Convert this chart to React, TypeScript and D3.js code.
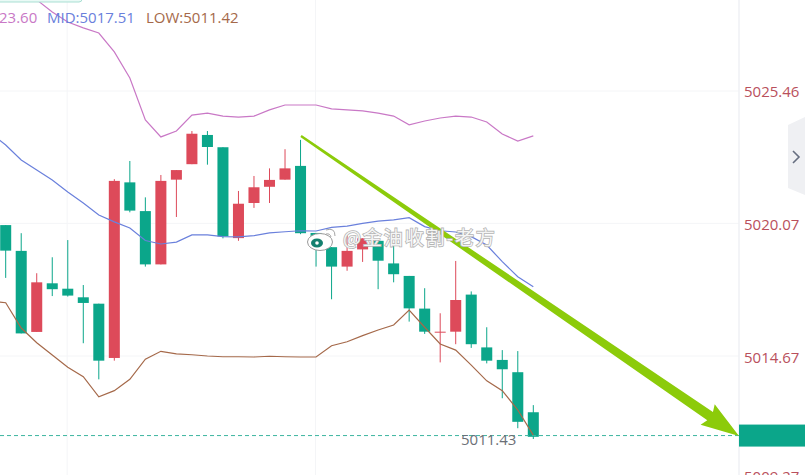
import { useEffect, useRef } from "react";
import * as d3 from "d3";

const width = 805;
const height = 475;

// open, high, low, close for each candle, left to right
const opens = [5020.0, 5018.95, 5015.65, 5017.63, 5017.41, 5017.06, 5016.8, 5014.59, 5021.74, 5020.57, 5018.4, 5021.85, 5022.48, 5023.67, 5023.17, 5019.47, 5020.9, 5021.56, 5021.85, 5022.41, 5019.68, 5019.1, 5018.31, 5019.01, 5019.36, 5018.44, 5017.93, 5016.6, 5015.62, 5015.66, 5017.17, 5015.02, 5014.51, 5014.01, 5012.38];
const highs = [5020.0, 5019.67, 5018.04, 5018.69, 5019.39, 5017.56, 5016.8, 5021.87, 5022.61, 5021.13, 5022.04, 5022.24, 5023.83, 5023.83, 5023.17, 5021.39, 5022.0, 5022.31, 5023.09, 5023.47, 5019.68, 5019.1, 5019.68, 5019.46, 5019.36, 5019.19, 5017.93, 5017.43, 5016.41, 5018.54, 5017.3, 5015.84, 5014.91, 5014.87, 5012.67];
const lows = [5017.85, 5015.59, 5015.65, 5017.11, 5017.09, 5015.19, 5013.72, 5014.48, 5020.52, 5018.31, 5018.4, 5020.33, 5022.48, 5022.46, 5019.46, 5019.36, 5020.7, 5020.9, 5021.85, 5019.63, 5018.31, 5016.98, 5018.14, 5018.5, 5017.39, 5017.67, 5016.07, 5015.57, 5014.41, 5015.15, 5015.0, 5014.37, 5012.95, 5011.73, 5011.29];
const closes = [5018.96, 5015.59, 5017.67, 5017.39, 5017.13, 5016.83, 5014.48, 5021.8, 5020.59, 5018.4, 5021.8, 5022.24, 5023.72, 5023.18, 5019.54, 5020.87, 5021.54, 5021.84, 5022.31, 5019.67, 5019.07, 5018.31, 5018.95, 5019.46, 5018.55, 5018.0, 5016.61, 5015.66, 5015.66, 5016.95, 5015.15, 5014.48, 5014.13, 5011.99, 5011.38];

// bollinger bands, first value belongs to the candle just off the left edge
const upper = [5030.6, 5030.18, 5029.65, 5029.17, 5028.68, 5028.27, 5028.03, 5027.82, 5027.05, 5025.99, 5024.28, 5023.59, 5023.83, 5024.48, 5024.56, 5024.44, 5024.4, 5024.44, 5024.69, 5024.89, 5024.89, 5024.89, 5024.73, 5024.69, 5024.65, 5024.56, 5024.44, 5024.08, 5024.24, 5024.36, 5024.44, 5024.4, 5024.2, 5023.71, 5023.42, 5023.63];
const mid = [5023.75, 5023.26, 5022.65, 5022.24, 5021.84, 5021.35, 5020.9, 5020.41, 5020.13, 5019.88, 5019.37, 5019.23, 5019.31, 5019.6, 5019.6, 5019.53, 5019.52, 5019.57, 5019.68, 5019.73, 5019.77, 5019.76, 5019.91, 5019.96, 5020.07, 5020.16, 5020.21, 5020.3, 5019.94, 5019.77, 5019.72, 5019.53, 5019.19, 5018.51, 5017.9, 5017.49];
const lower = [5016.9, 5016.84, 5015.81, 5015.21, 5014.71, 5014.21, 5013.83, 5013.01, 5013.26, 5013.72, 5014.54, 5014.86, 5014.76, 5014.72, 5014.67, 5014.64, 5014.64, 5014.63, 5014.66, 5014.64, 5014.63, 5014.63, 5015.09, 5015.25, 5015.5, 5015.73, 5015.93, 5016.54, 5015.84, 5015.16, 5014.91, 5014.3, 5013.66, 5013.26, 5012.47, 5011.45];

const priceTicks = [5025.46, 5020.07, 5014.67, 5009.27];
const lastPrice = 5011.43;

const RED = "#dd4a5a";
const TEAL = "#0ba68a";
const PINK = "#c978c6";
const BLUE = "#6a80dc";
const BROWN = "#a5694a";
const ARROW = "#8ccb0a";
const GRID = "#f4f5f7";

export default function App() {
  const svgRef = useRef<SVGSVGElement | null>(null);

  useEffect(() => {
    const svg = d3.select(svgRef.current);
    svg.selectAll("*").remove();
    svg.attr("viewBox", `0 0 ${width} ${height}`);

    const font = "'Open Sans', 'Noto Sans', sans-serif";
    const axisX = 739;
    const index = opens.map((_, i) => i);

    const x = d3.scaleBand<number>()
      .domain(index)
      .range([-2.06, 541.06])
      .paddingInner(0.29)
      .paddingOuter(0.145);
    const cx = (i: number) => x(i)! + x.bandwidth() / 2;

    const y = d3.scaleLinear()
      .domain([5025.46, 5014.67])
      .range([91, 356]);

    // grid
    svg.append("g")
      .selectAll("line")
      .data(priceTicks.slice(0, 3))
      .enter()
      .append("line")
      .attr("x1", 0)
      .attr("x2", axisX)
      .attr("y1", (d) => y(d))
      .attr("y2", (d) => y(d))
      .attr("stroke", GRID);
    svg.append("g")
      .selectAll("line")
      .data([4, 20])
      .enter()
      .append("line")
      .attr("x1", (d) => cx(d) - 0.6)
      .attr("x2", (d) => cx(d) - 0.6)
      .attr("y1", 0)
      .attr("y2", height)
      .attr("stroke", GRID);

    svg.append("line")
      .attr("x1", axisX)
      .attr("x2", axisX)
      .attr("y1", 0)
      .attr("y2", height)
      .attr("stroke", "#eff0f4")
      .attr("stroke-width", 1.5);

    // candles
    const candles = svg.append("g")
      .selectAll("g")
      .data(index)
      .enter()
      .append("g")
      .attr("fill", (i) => (closes[i] >= opens[i] ? RED : TEAL))
      .attr("stroke", (i) => (closes[i] >= opens[i] ? RED : TEAL));
    candles.append("line")
      .attr("x1", (i) => cx(i))
      .attr("x2", (i) => cx(i))
      .attr("y1", (i) => y(highs[i]))
      .attr("y2", (i) => y(lows[i]))
      .attr("stroke-width", 1);
    candles.append("rect")
      .attr("x", (i) => x(i)!)
      .attr("y", (i) => y(Math.max(opens[i], closes[i])))
      .attr("width", x.bandwidth())
      .attr("height", (i) => Math.max(1, Math.abs(y(opens[i]) - y(closes[i]))))
      .attr("stroke", "none");

    // bands
    const bandLine = d3.line<number>()
      .x((_, i) => cx(0) + (i - 1) * x.step())
      .y((d) => y(d));
    ([[upper, PINK], [mid, BLUE], [lower, BROWN]] as [number[], string][]).forEach(([values, color]) => {
      svg.append("path")
        .attr("d", bandLine(values))
        .attr("fill", "none")
        .attr("stroke", color)
        .attr("stroke-width", 1.2);
    });

    // last price line
    svg.append("line")
      .attr("x1", 0)
      .attr("x2", axisX)
      .attr("y1", y(lastPrice))
      .attr("y2", y(lastPrice))
      .attr("stroke", "#3cb59f")
      .attr("stroke-dasharray", "4 3");
    svg.append("text")
      .attr("x", 461)
      .attr("y", y(lastPrice) + 9)
      .attr("font-family", font)
      .attr("font-size", 15)
      .attr("fill", "#6b6f76")
      .text(lastPrice.toFixed(2));

    // hand drawn arrow on top
    const tip = [739, 436];
    const tail = [301, 136];
    const len = Math.hypot(tip[0] - tail[0], tip[1] - tail[1]);
    const ux = (tip[0] - tail[0]) / len;
    const uy = (tip[1] - tail[1]) / len;
    const at = (along: number, side: number): [number, number] => [
      tail[0] + ux * along - uy * side,
      tail[1] + uy * along + ux * side,
    ];
    const neck = len - 35;
    svg.append("path")
      .attr("d", d3.line()([
        at(0, -1.2), at(neck, -5), at(neck - 3, -12.5), tip as [number, number],
        at(neck - 3, 12.5), at(neck, 5), at(0, 1.2),
      ]) + "Z")
      .attr("fill", ARROW);

    // watermark
    const mark = svg.append("g");
    mark.append("ellipse")
      .attr("cx", 320)
      .attr("cy", 242)
      .attr("rx", 12.5)
      .attr("ry", 8.5)
      .attr("fill", "#fff")
      .attr("stroke", "#9a9a9a");
    mark.append("ellipse")
      .attr("cx", 317)
      .attr("cy", 243)
      .attr("rx", 6)
      .attr("ry", 4.5)
      .attr("fill", "#14806f");
    mark.append("circle")
      .attr("cx", 317)
      .attr("cy", 243)
      .attr("r", 1.8)
      .attr("fill", "#fff");
    mark.append("path")
      .attr("d", "M326 230 Q335 227 335 236 M326 234 Q330 233 331 237")
      .attr("fill", "none")
      .attr("stroke", "#a5a5a5");
    mark.append("text")
      .attr("x", 343)
      .attr("y", 245)
      .attr("font-family", "'Noto Sans CJK SC', sans-serif")
      .attr("font-size", 19)
      .attr("letter-spacing", 1.9)
      .attr("fill", "#fff")
      .attr("fill-opacity", 0.9)
      .attr("stroke", "#b5b5b5")
      .attr("stroke-width", 1.6)
      .attr("paint-order", "stroke")
      .text("@金油收割-老方");

    // right axis
    const labelShift = [1, 1, 2, -12];
    const axis = svg.append("g")
      .attr("transform", `translate(${axisX},0)`)
      .call(d3.axisRight(y).tickValues(priceTicks).tickSize(0).tickPadding(5).tickFormat((d) => (d as number).toFixed(2)));
    axis.select(".domain").remove();
    axis.selectAll<SVGTextElement, number>("text")
      .attr("transform", (_, i) => `translate(0,${labelShift[i]})`)
      .attr("font-family", font)
      .attr("font-size", 15)
      .attr("fill", "#b9505c");

    svg.append("rect")
      .attr("x", axisX)
      .attr("y", y(lastPrice) - 11)
      .attr("width", width - axisX)
      .attr("height", 22)
      .attr("fill", TEAL);

    // collapse button
    svg.append("path")
      .attr("d", "M788 125 L805 117 L805 195 L788 188 Z")
      .attr("fill", "#eff0f3");
    svg.append("path")
      .attr("d", "M793 151 L799 157 L793 163")
      .attr("fill", "none")
      .attr("stroke", "#666e80")
      .attr("stroke-width", 1.6);

    // legend
    svg.append("rect")
      .attr("x", -5)
      .attr("y", -8)
      .attr("width", 87)
      .attr("height", 10)
      .attr("rx", 3)
      .attr("fill", "#eafaf6")
      .attr("stroke", "#a9dfd3");
    const legend = svg.append("g")
      .attr("font-family", font)
      .attr("font-size", 15);
    legend.append("text").attr("x", -1).attr("y", 23).attr("fill", PINK).text("23.60");
    legend.append("text").attr("x", 47).attr("y", 23).attr("fill", BLUE).text("MID:5017.51");
    legend.append("text").attr("x", 146).attr("y", 23).attr("fill", BROWN).text("LOW:5011.42");
  }, []);

  return (
    <svg
      ref={svgRef}
      width={width}
      height={height}
      style={{ position: "fixed", left: 0, top: 0, display: "block", background: "#fff" }}
    />
  );
}
